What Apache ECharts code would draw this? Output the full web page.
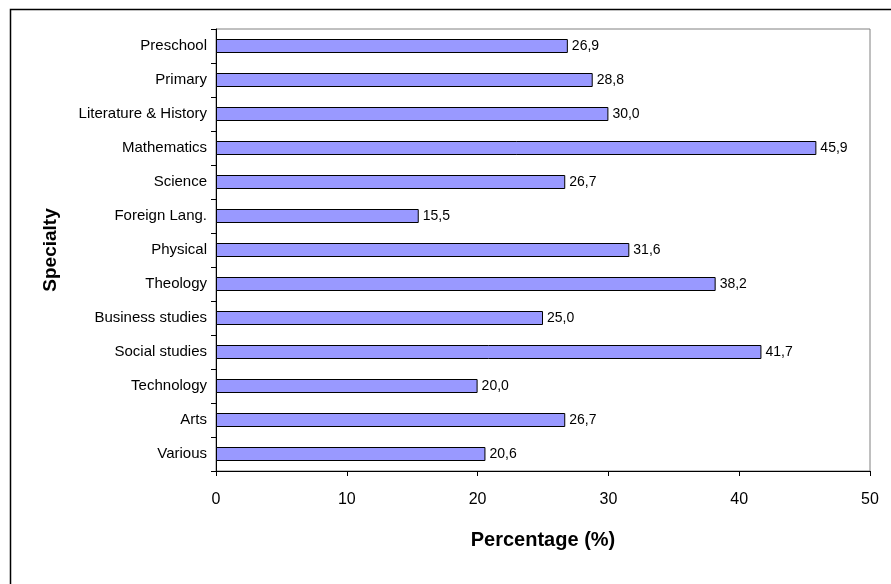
<!DOCTYPE html>
<html>
<head>
<meta charset="utf-8">
<script src="https://cdn.jsdelivr.net/npm/echarts@6/dist/echarts.min.js"></script>
<style>
  html, body { margin: 0; padding: 0; background: #fff; }
  #chart { width: 891px; height: 584px; }
</style>
</head>
<body>
<div id="chart"></div>
<script>
// Share of teachers by specialty (%)
const categories = [
  'Preschool', 'Primary', 'Literature & History', 'Mathematics', 'Science',
  'Foreign Lang.', 'Physical', 'Theology', 'Business studies', 'Social studies',
  'Technology', 'Arts', 'Various'
];
const values = [26.9, 28.8, 30.0, 45.9, 26.7, 15.5, 31.6, 38.2, 25.0, 41.7, 20.0, 26.7, 20.6];
const xTicks = [0, 10, 20, 30, 40, 50];

const FONT = '"Liberation Sans", Arial, sans-serif';
const chart = echarts.init(document.getElementById('chart'), null, { renderer: 'canvas' });

chart.setOption({
  backgroundColor: '#ffffff',
  animation: false,
  textStyle: { fontFamily: FONT },
  graphic: [{
    type: 'rect',
    shape: { x: 10.5, y: 9.5, width: 900, height: 600 },
    style: { fill: 'none', stroke: '#000', lineWidth: 1.5 },
    silent: true,
    z: -1
  }],
  grid: {
    left: 216, top: 29, right: 21, bottom: 113,
    show: true, borderColor: '#808080', borderWidth: 1,
    containLabel: false
  },
  xAxis: {
    type: 'value',
    min: xTicks[0], max: xTicks[xTicks.length - 1], interval: 10,
    name: 'Percentage (%)',
    nameLocation: 'middle', nameGap: 59,
    nameTextStyle: { fontFamily: FONT, fontSize: 20, fontWeight: 'bold', color: '#000' },
    axisLine: { show: true, lineStyle: { color: '#000', width: 1 } },
    axisTick: { show: true, length: 5, inside: false, lineStyle: { color: '#000' } },
    axisLabel: { fontFamily: FONT, fontSize: 16, color: '#000', margin: 21 },
    splitLine: { show: false }
  },
  yAxis: {
    type: 'category',
    data: categories,
    inverse: true,
    name: 'Specialty',
    nameLocation: 'middle', nameGap: 156, nameRotate: 90,
    nameTextStyle: { fontFamily: FONT, fontSize: 19, fontWeight: 'bold', color: '#000' },
    axisLine: { show: true, lineStyle: { color: '#000', width: 1 } },
    axisTick: { show: true, length: 5, inside: false, alignWithLabel: false, lineStyle: { color: '#000' } },
    axisLabel: { fontFamily: FONT, fontSize: 15, color: '#000', margin: 9 },
    splitLine: { show: false }
  },
  series: [{
    type: 'bar',
    data: values,
    barWidth: 14,
    itemStyle: { color: '#9999FF', borderColor: '#000', borderWidth: 1 },
    label: {
      show: true, position: 'right', distance: 4,
      fontFamily: FONT, fontSize: 14, color: '#000',
      formatter: p => p.value.toFixed(1).replace('.', ',')
    }
  }]
});
</script>
</body>
</html>
